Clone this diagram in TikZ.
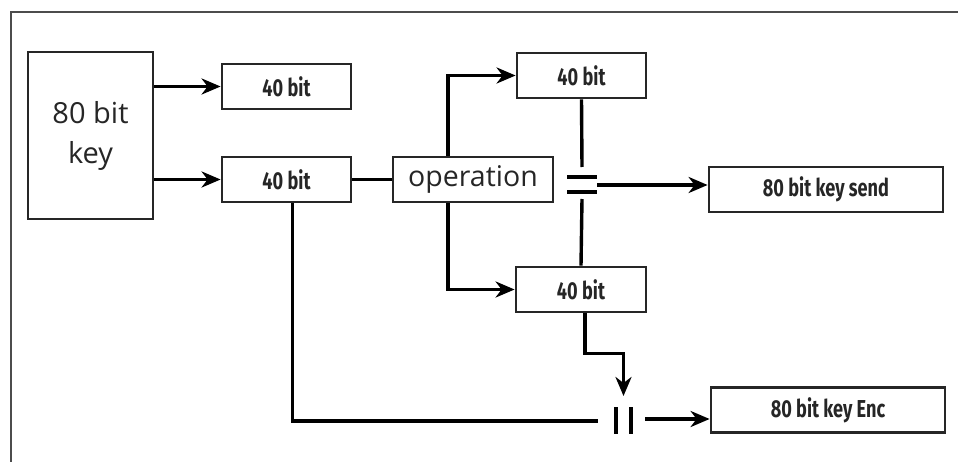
\documentclass[tikz,border=0pt]{standalone}
\usepackage{fontspec}
\setmainfont{Open Sans}
\newfontfamily\condfont[FakeStretch=0.74]{Fira Sans}
\usetikzlibrary{arrows.meta}
\tikzset{
  blk/.style={draw=black!85, line width=2.8pt, minimum height=45pt, inner sep=0pt, text=black!85},
  half/.style={blk, minimum width=129pt, font=\condfont\bfseries\fontsize{24.5}{28}\selectfont},
  wide/.style={half, minimum width=234pt},
  wire/.style={draw=black, line width=3.4pt},
  conn/.style={wire, -{Stealth[length=19pt,width=16pt,inset=6pt]}},
}
\begin{document}
\begin{tikzpicture}[x=1pt, y=-1pt]
  \useasboundingbox (0,0) rectangle (958,462);
  % frame
  \draw[black!70, line width=1.6pt] (11,462) -- (11,12) -- (958,12);

  % boxes
  \node[blk, minimum width=125pt, minimum height=167pt, align=center,
        font=\fontsize{29}{40}\selectfont] (key) at (90.5,135.5) {80 bit\\key};
  \node[half] (top40) at (286.5,86.5) {40 bit};
  \node[half] (mid40) at (286.5,179.5) {40 bit};
  \node[blk, minimum width=160pt, font=\fontsize{28.5}{32}\selectfont] (op) at (473,179.5) {operation};
  \node[half] (up40) at (581.5,75.5) {40 bit};
  \node[half, minimum width=130pt] (dn40) at (581,289.5) {40 bit};
  \node[wide] (send) at (826,189.5) {80 bit key send};
  \node[wide] (enc) at (828,410) {80 bit key Enc};

  % join points
  \coordinate (eqN) at (582,167);
  \coordinate (eqS) at (582,199);
  \coordinate (eqE) at (597,185);
  \coordinate (parN) at (623.5,396);
  \coordinate (parW) at (598,421);
  \coordinate (parE) at (645,419);

  % split of the key
  \draw[conn] (key.east |- top40) -- (top40.west);
  \draw[conn] (key.east |- mid40) -- (mid40.west);
  \draw[wire] (mid40.east) -- (op.west);

  % operation out
  \draw[conn] ([xshift=-25pt]op.north) |- (up40.west);
  \draw[conn] ([xshift=-25pt]op.south) |- (dn40.west);

  % concat for send
  \draw[wire] (up40.south) -- (eqN);
  \draw[wire] (eqS) -- (dn40.north);
  \draw[wire] (567,177) -- (597,177);
  \draw[wire] (567,192) -- (597,192);
  \draw[conn] (eqE) -- (eqE -| send.west);

  % concat for enc
  \draw[conn] ([xshift=4pt]dn40.south) -- ++(0,40) -| (parN);
  \draw[wire] ([xshift=6pt]mid40.south) |- (parW);
  \draw[wire] (616,407) -- (616,434);
  \draw[wire] (631,407) -- (631,434);
  \draw[conn] (parE) -- (parE -| enc.west);
\end{tikzpicture}
\end{document}
